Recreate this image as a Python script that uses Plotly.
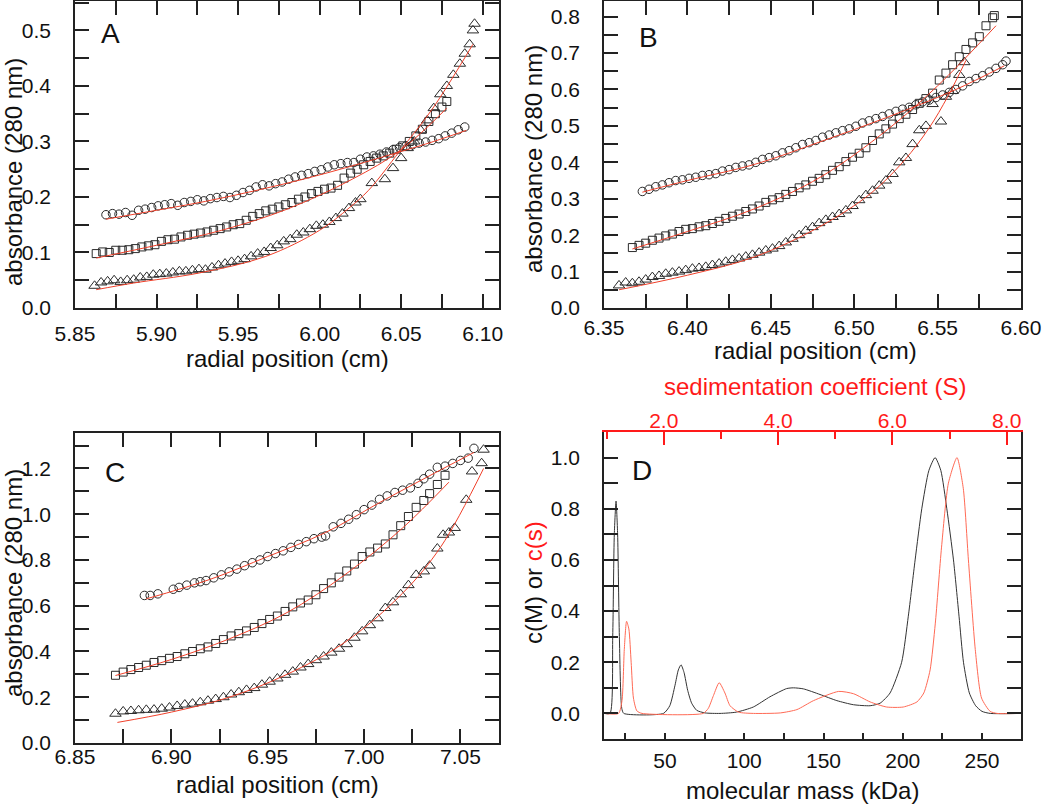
import plotly.graph_objects as go

# ---------------- Panel A ----------------
a_circ_x = [5.869,5.873,5.877,5.881,5.885,5.889,5.893,5.897,5.901,5.905,5.909,5.913,5.917,5.921,5.925,5.929,5.933,5.937,5.941,5.945,5.949,5.953,5.957,5.961,5.965,5.969,5.973,5.977,5.981,5.985,5.989,5.993,5.997,6.001,6.005,6.009,6.013,6.017,6.021,6.025,6.029,6.033,6.037,6.041,6.045,6.049,6.053,6.057,6.061,6.065,6.069,6.073,6.077,6.081,6.085,6.089]
a_circ_y = [0.168,0.170,0.169,0.172,0.167,0.176,0.178,0.181,0.184,0.186,0.188,0.185,0.190,0.192,0.195,0.193,0.197,0.199,0.201,0.199,0.203,0.208,0.212,0.218,0.222,0.220,0.224,0.227,0.232,0.236,0.239,0.242,0.246,0.249,0.254,0.258,0.260,0.262,0.262,0.268,0.272,0.274,0.277,0.281,0.285,0.289,0.292,0.294,0.297,0.299,0.302,0.305,0.310,0.315,0.321,0.326]
a_circ_fit_x = [5.869,5.90,5.93,5.96,5.99,6.02,6.05,6.07,6.09]
a_circ_fit_y = [0.160,0.176,0.192,0.211,0.232,0.256,0.282,0.300,0.320]

a_sq_x = [5.863,5.867,5.871,5.875,5.879,5.883,5.887,5.891,5.895,5.899,5.903,5.907,5.911,5.915,5.919,5.923,5.927,5.931,5.935,5.939,5.943,5.947,5.951,5.955,5.959,5.963,5.967,5.971,5.975,5.979,5.983,5.987,5.991,5.995,5.999,6.003,6.007,6.011,6.015,6.019,6.023,6.027,6.031,6.035,6.039,6.043,6.047,6.051,6.055,6.059,6.063,6.067,6.071,6.075,6.078]
a_sq_y = [0.098,0.101,0.100,0.104,0.104,0.105,0.107,0.110,0.112,0.114,0.120,0.123,0.124,0.128,0.131,0.133,0.135,0.137,0.140,0.143,0.146,0.150,0.152,0.158,0.165,0.170,0.175,0.178,0.182,0.186,0.190,0.196,0.200,0.206,0.210,0.214,0.216,0.221,0.234,0.243,0.250,0.258,0.264,0.270,0.274,0.279,0.286,0.292,0.300,0.310,0.322,0.336,0.350,0.362,0.372]
a_sq_fit_x = [5.863,5.90,5.94,5.98,6.02,6.05,6.078]
a_sq_fit_y = [0.090,0.113,0.140,0.178,0.232,0.285,0.360]

a_tri_x = [5.862,5.866,5.870,5.874,5.878,5.882,5.886,5.890,5.894,5.898,5.902,5.906,5.910,5.914,5.918,5.922,5.926,5.930,5.934,5.938,5.942,5.946,5.950,5.954,5.958,5.962,5.966,5.970,5.974,5.978,5.982,5.986,5.990,5.994,5.998,6.002,6.006,6.010,6.014,6.018,6.022,6.025,6.032,6.040,6.045,6.050,6.054,6.058,6.062,6.066,6.070,6.074,6.078,6.082,6.086,6.089,6.092,6.094,6.095]
a_tri_y = [0.040,0.046,0.048,0.050,0.047,0.050,0.051,0.055,0.056,0.060,0.061,0.062,0.064,0.066,0.066,0.068,0.070,0.069,0.073,0.077,0.080,0.083,0.085,0.088,0.093,0.098,0.101,0.108,0.113,0.120,0.124,0.132,0.136,0.142,0.148,0.150,0.155,0.162,0.170,0.180,0.190,0.196,0.225,0.232,0.252,0.270,0.288,0.300,0.320,0.338,0.360,0.385,0.400,0.420,0.440,0.458,0.475,0.500,0.512]
a_tri_fit_x = [5.863,5.886,5.926,5.967,6.000,6.018,6.030,6.049,6.069,6.094]
a_tri_fit_y = [0.033,0.045,0.063,0.093,0.140,0.180,0.212,0.282,0.358,0.475]

# ---------------- Panel B ----------------
b_circ_x = [6.373,6.377,6.381,6.385,6.389,6.393,6.397,6.401,6.405,6.409,6.413,6.417,6.421,6.425,6.429,6.433,6.437,6.441,6.445,6.449,6.453,6.457,6.461,6.465,6.469,6.473,6.477,6.481,6.485,6.489,6.493,6.497,6.501,6.505,6.509,6.513,6.517,6.521,6.525,6.529,6.533,6.537,6.541,6.545,6.549,6.553,6.557,6.561,6.565,6.569,6.573,6.577,6.581,6.585,6.589,6.591]
b_circ_y = [0.320,0.326,0.333,0.338,0.344,0.350,0.352,0.356,0.359,0.364,0.366,0.369,0.376,0.380,0.386,0.390,0.393,0.400,0.408,0.413,0.418,0.426,0.432,0.440,0.449,0.454,0.460,0.469,0.475,0.481,0.487,0.492,0.499,0.508,0.514,0.520,0.526,0.533,0.540,0.546,0.551,0.558,0.566,0.571,0.578,0.585,0.592,0.600,0.610,0.622,0.630,0.638,0.648,0.658,0.668,0.678]
b_circ_fit_x = [6.373,6.40,6.44,6.48,6.52,6.56,6.59]
b_circ_fit_y = [0.318,0.350,0.394,0.457,0.524,0.598,0.665]

b_sq_x = [6.367,6.371,6.375,6.379,6.383,6.387,6.391,6.395,6.399,6.403,6.407,6.411,6.415,6.419,6.423,6.427,6.431,6.435,6.439,6.443,6.447,6.451,6.455,6.459,6.463,6.467,6.471,6.475,6.479,6.483,6.487,6.491,6.495,6.499,6.503,6.507,6.511,6.515,6.519,6.523,6.527,6.531,6.535,6.539,6.543,6.547,6.551,6.555,6.559,6.563,6.567,6.571,6.575,6.579,6.583,6.584]
b_sq_y = [0.166,0.172,0.178,0.186,0.192,0.198,0.203,0.210,0.216,0.218,0.223,0.226,0.232,0.238,0.246,0.252,0.258,0.265,0.272,0.280,0.290,0.297,0.303,0.312,0.320,0.330,0.338,0.348,0.356,0.366,0.378,0.388,0.402,0.414,0.425,0.440,0.460,0.478,0.492,0.505,0.520,0.532,0.545,0.562,0.575,0.590,0.626,0.645,0.668,0.690,0.710,0.728,0.745,0.775,0.797,0.803]
b_sq_fit_x = [6.367,6.40,6.44,6.48,6.52,6.55,6.585]
b_sq_fit_y = [0.162,0.210,0.272,0.360,0.490,0.610,0.775]

b_tri_x = [6.359,6.363,6.367,6.371,6.375,6.379,6.383,6.387,6.391,6.395,6.399,6.403,6.407,6.411,6.415,6.419,6.423,6.427,6.431,6.435,6.439,6.443,6.447,6.451,6.455,6.459,6.463,6.467,6.471,6.475,6.479,6.483,6.487,6.491,6.495,6.499,6.503,6.507,6.511,6.515,6.519,6.523,6.527,6.531,6.535,6.539,6.543,6.547,6.552,6.555,6.559,6.563,6.566]
b_tri_y = [0.062,0.070,0.068,0.072,0.078,0.085,0.088,0.094,0.097,0.100,0.104,0.108,0.110,0.113,0.118,0.122,0.127,0.132,0.136,0.141,0.146,0.152,0.158,0.163,0.170,0.180,0.190,0.200,0.212,0.222,0.233,0.242,0.250,0.258,0.268,0.280,0.296,0.310,0.322,0.336,0.350,0.368,0.400,0.412,0.450,0.488,0.500,0.560,0.512,0.580,0.596,0.640,0.675]
b_tri_fit_x = [6.359,6.40,6.44,6.48,6.51,6.53,6.545,6.556,6.567]
b_tri_fit_y = [0.050,0.090,0.140,0.225,0.315,0.405,0.495,0.580,0.680]

# ---------------- Panel C ----------------
c_circ_x = [6.886,6.889,6.893,6.901,6.904,6.908,6.912,6.915,6.918,6.922,6.926,6.930,6.934,6.938,6.942,6.946,6.950,6.954,6.958,6.962,6.966,6.970,6.974,6.978,6.980,6.984,6.988,6.992,6.996,7.000,7.004,7.008,7.012,7.016,7.020,7.024,7.028,7.031,7.034,7.038,7.042,7.046,7.050,7.054,7.057]
c_circ_y = [0.645,0.645,0.652,0.672,0.680,0.690,0.700,0.705,0.710,0.722,0.735,0.748,0.760,0.775,0.788,0.800,0.815,0.828,0.840,0.855,0.868,0.880,0.893,0.900,0.905,0.945,0.960,0.978,0.998,1.020,1.040,1.065,1.080,1.095,1.105,1.115,1.135,1.155,1.175,1.205,1.210,1.222,1.235,1.245,1.288]
c_circ_fit_x = [6.887,6.92,6.95,6.98,7.01,7.04,7.057]
c_circ_fit_y = [0.630,0.715,0.815,0.920,1.060,1.195,1.270]

c_sq_x = [6.871,6.875,6.879,6.883,6.887,6.891,6.895,6.899,6.903,6.907,6.911,6.915,6.919,6.923,6.927,6.931,6.935,6.939,6.943,6.947,6.951,6.955,6.959,6.963,6.967,6.971,6.975,6.979,6.983,6.987,6.991,6.995,6.999,7.003,7.007,7.011,7.015,7.019,7.023,7.027,7.031,7.034,7.038,7.042]
c_sq_y = [0.296,0.310,0.321,0.330,0.340,0.352,0.360,0.370,0.378,0.390,0.400,0.412,0.420,0.435,0.452,0.468,0.478,0.490,0.505,0.522,0.540,0.555,0.575,0.595,0.612,0.625,0.648,0.675,0.700,0.725,0.752,0.782,0.815,0.835,0.852,0.870,0.910,0.950,0.990,1.030,1.060,1.090,1.130,1.170]
c_sq_fit_x = [6.871,6.90,6.93,6.96,6.99,7.02,7.044]
c_sq_fit_y = [0.295,0.365,0.455,0.570,0.735,0.940,1.140]

c_tri_x = [6.871,6.875,6.879,6.883,6.887,6.891,6.895,6.899,6.903,6.907,6.911,6.915,6.919,6.923,6.927,6.931,6.935,6.939,6.943,6.947,6.951,6.955,6.959,6.963,6.967,6.971,6.975,6.979,6.983,6.987,6.991,6.995,6.999,7.003,7.007,7.011,7.015,7.019,7.023,7.027,7.031,7.034,7.038,7.041,7.044,7.047,7.053,7.056,7.061,7.062]
c_tri_y = [0.128,0.138,0.140,0.143,0.145,0.146,0.150,0.155,0.162,0.168,0.172,0.178,0.185,0.192,0.200,0.212,0.222,0.232,0.240,0.255,0.268,0.282,0.298,0.312,0.330,0.345,0.362,0.378,0.395,0.412,0.432,0.460,0.488,0.515,0.545,0.590,0.615,0.650,0.690,0.735,0.750,0.775,0.850,0.910,0.920,0.940,1.063,1.187,1.223,1.282]
c_tri_fit_x = [6.872,6.90,6.93,6.96,6.99,7.02,7.04,7.062]
c_tri_fit_y = [0.090,0.135,0.200,0.300,0.440,0.655,0.860,1.200]

# ---------------- Panel D ----------------
d_mass = [11.5,15.3,17.0,18.0,19.1,20.1,21.2,22.7,24.0,49.0,53.0,56.3,58.4,60.1,62.0,64.3,66.8,70.0,75.2,84.7,95.0,105.7,116.2,126.7,131.0,137.3,147.8,158.4,168.9,179.4,185.7,192.0,199.3,203.5,207.8,212.0,216.5,220.4,224.0,227.8,232.0,235.5,238.3,242.0,246.0,250.0,255.2,275.0]
d_cM = [0.0,0.0,0.30,0.70,0.83,0.70,0.30,0.02,0.0,0.0,0.03,0.11,0.17,0.19,0.16,0.09,0.04,0.012,0.002,0.0,0.005,0.025,0.065,0.097,0.100,0.096,0.074,0.050,0.034,0.030,0.040,0.080,0.200,0.380,0.600,0.800,0.950,1.000,0.950,0.800,0.600,0.380,0.200,0.080,0.030,0.008,0.0,0.0]
d_sed = [0.95,1.21,1.27,1.31,1.35,1.39,1.43,1.47,1.53,1.62,2.69,2.78,2.87,2.97,3.07,3.16,3.31,3.57,4.04,4.33,4.62,5.06,5.32,5.61,5.90,6.19,6.43,6.55,6.66,6.75,6.86,6.98,7.13,7.24,7.33,7.45,7.56,7.71,7.83,8.25]
d_cs = [0.0,0.0,0.05,0.25,0.36,0.33,0.20,0.06,0.01,0.0,0.0,0.02,0.07,0.12,0.08,0.03,0.005,0.0,0.002,0.015,0.05,0.086,0.077,0.045,0.025,0.025,0.045,0.08,0.17,0.35,0.65,0.90,1.00,0.88,0.60,0.25,0.06,0.008,0.0,0.0]

FONT = "Liberation Sans, Arial, sans-serif"
MK = "#2a2a2a"
FIT = "#f0402a"
RED = "#ff1a1a"
TICK_SIZE = 21
TITLE_SIZE = 24

fig = go.Figure()

def add_panel(n, circ, sq, tri, fits):
    xa = "x" if n == 1 else f"x{n}"
    ya = "y" if n == 1 else f"y{n}"
    for (xs, ys), sym, size in zip([circ, sq, tri],
                                   ["circle-open", "square-open", "triangle-up-open"],
                                   [8.5, 8, 10]):
        fig.add_trace(go.Scatter(x=xs, y=ys, mode="markers", xaxis=xa, yaxis=ya,
                                 marker=dict(symbol=sym, size=size, color=MK,
                                             line=dict(width=1, color=MK)),
                                 showlegend=False, hoverinfo="skip"))
    for xs, ys in fits:
        fig.add_trace(go.Scatter(x=xs, y=ys, mode="lines", xaxis=xa, yaxis=ya,
                                 line=dict(color=FIT, width=1, shape="spline"),
                                 showlegend=False, hoverinfo="skip"))

add_panel(1, (a_circ_x, a_circ_y), (a_sq_x, a_sq_y), (a_tri_x, a_tri_y),
          [(a_circ_fit_x, a_circ_fit_y), (a_sq_fit_x, a_sq_fit_y), (a_tri_fit_x, a_tri_fit_y)])
add_panel(2, (b_circ_x, b_circ_y), (b_sq_x, b_sq_y), (b_tri_x, b_tri_y),
          [(b_circ_fit_x, b_circ_fit_y), (b_sq_fit_x, b_sq_fit_y), (b_tri_fit_x, b_tri_fit_y)])
add_panel(3, (c_circ_x, c_circ_y), (c_sq_x, c_sq_y), (c_tri_x, c_tri_y),
          [(c_circ_fit_x, c_circ_fit_y), (c_sq_fit_x, c_sq_fit_y), (c_tri_fit_x, c_tri_fit_y)])

fig.add_trace(go.Scatter(x=d_mass, y=d_cM, mode="lines", xaxis="x4", yaxis="y4",
                         line=dict(color="#333333", width=1, shape="spline", smoothing=0.6),
                         showlegend=False, hoverinfo="skip"))
fig.add_trace(go.Scatter(x=d_sed, y=d_cs, mode="lines", xaxis="x5", yaxis="y4",
                         line=dict(color="#ff6a55", width=1, shape="spline", smoothing=0.6),
                         showlegend=False, hoverinfo="skip"))

W, H = 1050, 805
def px(x0, x1):
    return [x0 / W, x1 / W]
def py(top, bottom):
    return [1 - bottom / H, 1 - top / H]

tf = dict(family=FONT, size=TICK_SIZE, color="#111")
base_ax = dict(showline=True, linecolor="#222", linewidth=1.6, ticks="inside",
               tickcolor="#222", tickwidth=1.5, showgrid=False, zeroline=False,
               tickfont=tf, mirror="allticks", automargin=False)

def ax(dom, anchor, rng, dtick, minor, fmt, tl=14, standoff=8, **kw):
    d = dict(base_ax, domain=dom, anchor=anchor, range=rng, dtick=dtick, tick0=0,
             tickformat=fmt, ticklen=tl, ticklabelstandoff=standoff,
             minor=dict(dtick=minor, ticklen=tl, ticks="inside", tickcolor="#222", tickwidth=1.5, showgrid=False))
    d.update(kw)
    return d

fig.update_layout(
    width=W, height=H, margin=dict(l=0, r=0, t=0, b=0, autoexpand=False),
    paper_bgcolor="white", plot_bgcolor="white", font=dict(family=FONT, color="#111"),
    xaxis=ax(px(75, 499), "y", [5.85, 6.11], 0.05, 0.025, ".2f", standoff=6),
    yaxis=ax(py(1, 308), "x", [0, 0.553], 0.1, 0.05, ".1f", standoff=18),
    xaxis2=ax(px(604, 1021), "y2", [6.35, 6.60], 0.05, 0.025, ".2f", standoff=0),
    yaxis2=ax(py(1, 308), "x2", [0, 0.843], 0.1, 0.05, ".1f", standoff=18),
    xaxis3=ax(px(75, 499), "y3", [6.85, 7.07], 0.05, 0.025, ".2f", standoff=-6),
    yaxis3=ax(py(433, 743), "x3", [0, 1.355], 0.2, 0.1, ".1f", standoff=18),
    xaxis4=ax(px(604, 1021), "y4", [11.5, 274.6], 50, 25, "d", tl=6, standoff=2, mirror=False),
    yaxis4=ax(py(432, 739), "x4", [-0.1, 1.1], 0.2, 0.1, ".1f", standoff=18),
    xaxis5=dict(domain=px(604, 1021), anchor="y4", overlaying="x4", side="top",
                range=[0.955, 8.25], dtick=2, tick0=0, tickformat=".1f", automargin=False,
                showline=True, linecolor=RED, linewidth=1.6, ticks="inside",
                ticklen=13, tickcolor=RED, tickwidth=1.5, showgrid=False, zeroline=False,
                tickfont=dict(family=FONT, size=TICK_SIZE, color=RED), ticklabelstandoff=-6,
                minor=dict(dtick=1, ticklen=7, ticks="inside", tickcolor=RED, tickwidth=1.5, showgrid=False)),
)

def ann(text, x, y, size=TITLE_SIZE, angle=0, color="#111"):
    fig.add_annotation(text=text, x=x / W, y=1 - y / H, xref="paper", yref="paper",
                       showarrow=False, textangle=angle, xanchor="center", yanchor="middle",
                       font=dict(family=FONT, size=size, color=color))

ann("radial position (cm)", 287, 359)
ann("radial position (cm)", 815, 351)
ann("radial position (cm)", 277, 784)
ann("molecular mass (kDa)", 802, 790)
ann("absorbance (280 nm)", 13, 172, angle=-90)
ann("absorbance (280 nm)", 533, 159, angle=-90)
ann("absorbance (280 nm)", 13, 583, angle=-90)
ann("c(M) or <span style='color:#ff1a1a'>c(s)</span>", 533, 583, angle=-90)
ann("sedimentation coefficient (S)", 815, 387, color=RED)
ann("A", 110, 33, size=28)
ann("B", 648, 37, size=28)
ann("C", 115, 472, size=28)
ann("D", 642, 470, size=28)

fig.write_html("out.html", config={"displayModeBar": False},
               post_script="document.body.style.margin='0';document.body.style.overflow='hidden';")
